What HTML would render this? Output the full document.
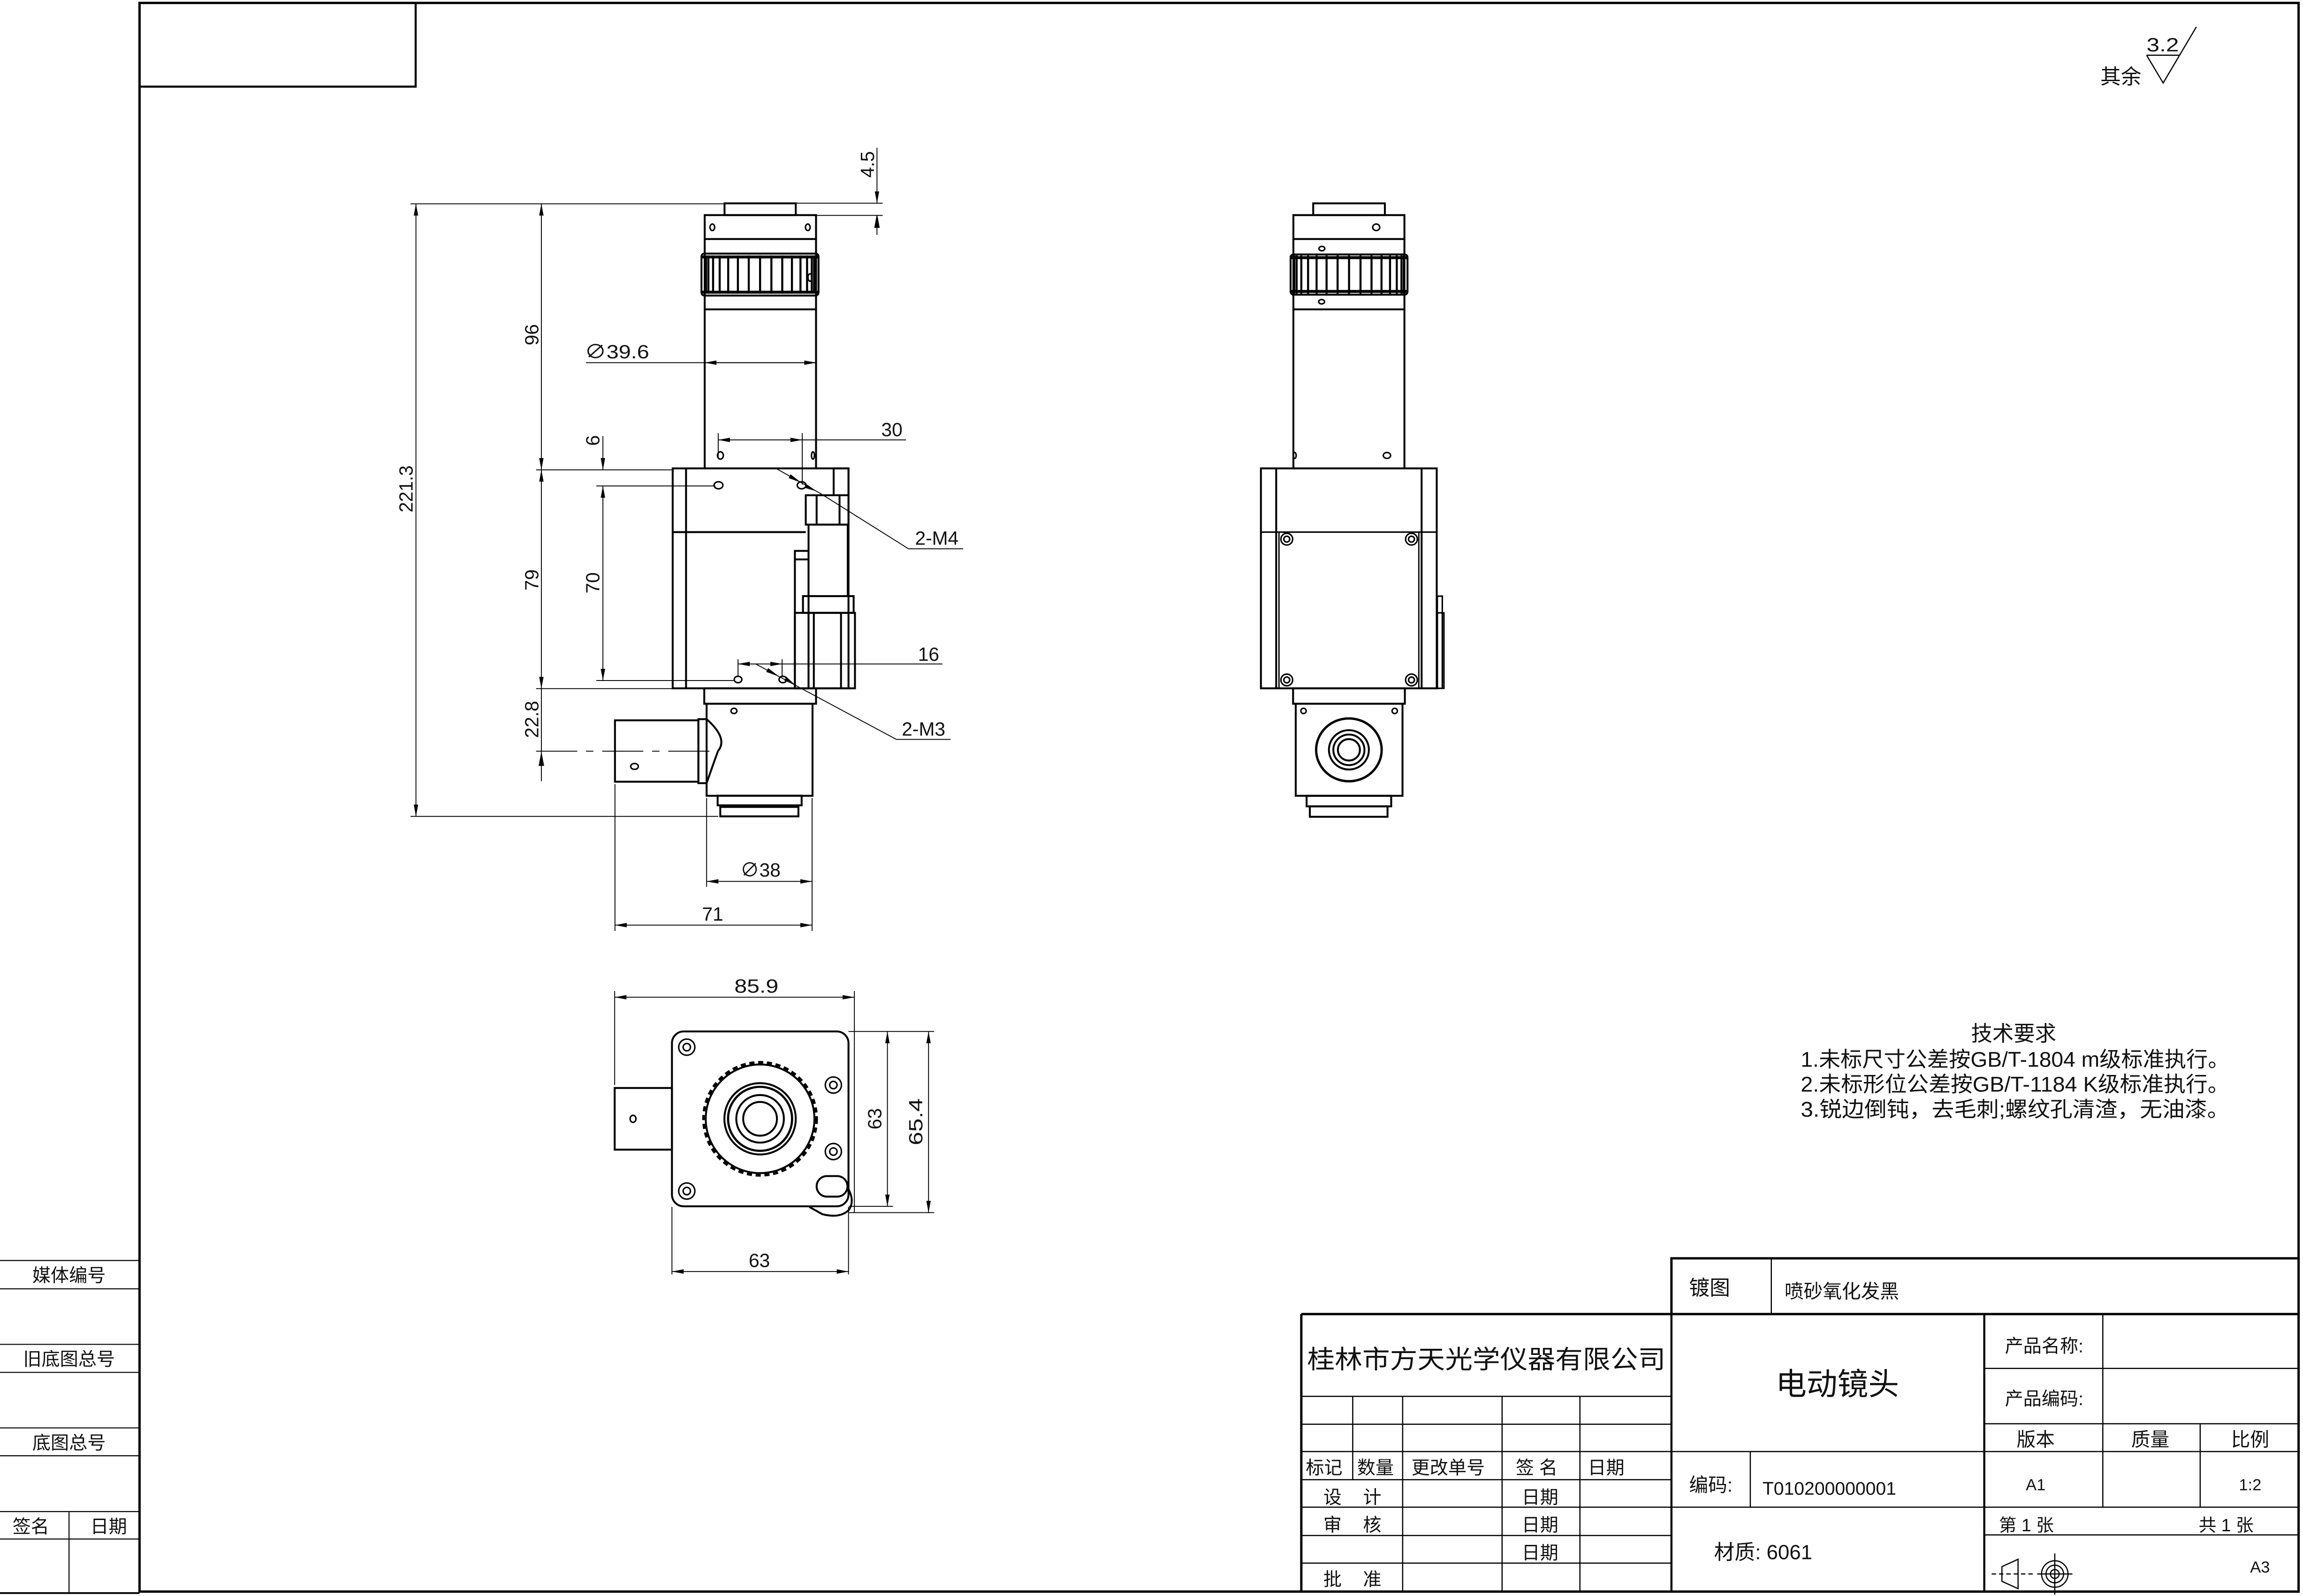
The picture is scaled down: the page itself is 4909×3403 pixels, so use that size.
<!DOCTYPE html>
<html><head><meta charset="utf-8">
<style>
html,body{margin:0;padding:0;background:#fff;}
svg{display:block;}
text{font-family:"Liberation Sans","Noto Sans CJK SC",sans-serif;fill:#111;}
</style></head>
<body>
<svg width="4909" height="3403" viewBox="0 0 1568 1087" preserveAspectRatio="none" xmlns="http://www.w3.org/2000/svg">
<defs>
<marker id="a" markerUnits="userSpaceOnUse" markerWidth="12" markerHeight="6" refX="0" refY="0" viewBox="-10 -3 12 6" orient="auto-start-reverse">
<path d="M0,0 L-8,-1.5 L-8,1.5 Z" fill="#000"/>
</marker>
</defs>
<rect width="1568" height="1087" fill="#fff"/>

<g fill="none" stroke="#000">
<rect x="95" y="2" width="1470" height="1082" stroke-width="1.6"/>
<rect x="95" y="2" width="188" height="57" stroke-width="1.4"/>
</g>

<g stroke="#000" stroke-width="0.7" fill="none">
<line x1="0" y1="858.5" x2="95" y2="858.5"/>
<line x1="0" y1="877.8" x2="95" y2="877.8"/>
<line x1="0" y1="915.6" x2="95" y2="915.6"/>
<line x1="0" y1="934.7" x2="95" y2="934.7"/>
<line x1="0" y1="972.5" x2="95" y2="972.5"/>
<line x1="0" y1="991.5" x2="95" y2="991.5"/>
<line x1="0" y1="1029.5" x2="95" y2="1029.5"/>
<line x1="0" y1="1048.2" x2="95" y2="1048.2"/>
<line x1="47" y1="1029.5" x2="47" y2="1085"/>
<line x1="0" y1="1085" x2="95" y2="1085" stroke-width="1.2"/>
</g>
<g font-size="12.5">
<text x="47" y="873" text-anchor="middle">媒体编号</text>
<text x="47" y="930" text-anchor="middle">旧底图总号</text>
<text x="47" y="987" text-anchor="middle">底图总号</text>
<text x="21" y="1044" text-anchor="middle">签名</text>
<text x="74" y="1044" text-anchor="middle">日期</text>
</g>

<g stroke="#000" stroke-width="0.8" fill="none">
<polyline points="1461.5,37.6 1484,37.6"/>
<polyline points="1461.5,37.6 1472.8,56.5 1495.4,18.3"/>
</g>
<text x="1461.5" y="35" font-size="13" textLength="22" lengthAdjust="spacingAndGlyphs">3.2</text>
<text x="1430" y="57" font-size="14">其余</text>

<g font-size="14.5">
<text x="1371" y="709" text-anchor="middle">技术要求</text>
<text x="1226" y="726.5" textLength="292" lengthAdjust="spacingAndGlyphs">1.未标尺寸公差按GB/T-1804 m级标准执行。</text>
<text x="1226" y="743.5" textLength="292" lengthAdjust="spacingAndGlyphs">2.未标形位公差按GB/T-1184 K级标准执行。</text>
<text x="1226" y="760.5" textLength="292" lengthAdjust="spacingAndGlyphs">3.锐边倒钝，去毛刺;螺纹孔清渣，无油漆。</text>
</g>

<g stroke="#000" fill="none">
<polyline points="1138,895 1138,857 1565,857" stroke-width="1.6"/>
<line x1="1206" y1="857" x2="1206" y2="895" stroke-width="0.8"/>
<line x1="886" y1="895" x2="1565" y2="895" stroke-width="1.6"/>
<line x1="886" y1="895" x2="886" y2="1084" stroke-width="1.6"/>
<line x1="1138" y1="895" x2="1138" y2="1084" stroke-width="1.4"/>
<line x1="1351" y1="895" x2="1351" y2="1084" stroke-width="1.4"/>
<g stroke-width="0.8">
<line x1="886" y1="951" x2="1138" y2="951"/>
<line x1="886" y1="970" x2="1138" y2="970"/>
<line x1="886" y1="988.6" x2="1565" y2="988.6"/>
<line x1="886" y1="1007.8" x2="1138" y2="1007.8"/>
<line x1="886" y1="1026.5" x2="1565" y2="1026.5"/>
<line x1="886" y1="1045.8" x2="1138" y2="1045.8"/>
<line x1="886" y1="1064.6" x2="1138" y2="1064.6"/>
<line x1="921" y1="951" x2="921" y2="1007.8"/>
<line x1="955" y1="951" x2="955" y2="1084"/>
<line x1="1022.7" y1="951" x2="1022.7" y2="1084"/>
<line x1="1075.7" y1="951" x2="1075.7" y2="1084"/>
<line x1="1191.7" y1="988.6" x2="1191.7" y2="1026.5"/>
<line x1="1351" y1="932" x2="1565" y2="932"/>
<line x1="1351" y1="969.7" x2="1565" y2="969.7"/>
<line x1="1351" y1="1045.4" x2="1565" y2="1045.4"/>
<line x1="1431.7" y1="895" x2="1431.7" y2="1026.5"/>
<line x1="1498" y1="969.7" x2="1498" y2="1026.5"/>
</g>
</g>
<g font-size="13">
<text x="1150" y="882" font-size="14">镀图</text>
<text x="1215" y="884">喷砂氧化发黑</text>
<text x="890" y="932" font-size="17.5" textLength="244" lengthAdjust="spacingAndGlyphs">桂林市方天光学仪器有限公司</text>
<text x="1251" y="950" font-size="21" text-anchor="middle">电动镜头</text>
<text x="1365" y="921" font-size="12.5">产品名称:</text>
<text x="1365" y="957" font-size="12.5">产品编码:</text>
<text x="1386" y="985" text-anchor="middle">版本</text>
<text x="1464" y="985" text-anchor="middle">质量</text>
<text x="1532" y="985" text-anchor="middle">比例</text>
<text x="1386" y="1015" font-size="11" text-anchor="middle">A1</text>
<text x="1532" y="1015" font-size="11" text-anchor="middle">1:2</text>
<text x="1361" y="1043" font-size="12">第 1 张</text>
<text x="1497" y="1043" font-size="12">共 1 张</text>
<text x="1532" y="1071" font-size="11">A3</text>
<text x="889" y="1004" font-size="12.5">标记</text>
<text x="924" y="1004" font-size="12.5">数量</text>
<text x="961" y="1004" font-size="12.5">更改单号</text>
<text x="1032" y="1004" font-size="12.5">签 名</text>
<text x="1081" y="1004" font-size="12.5">日期</text>
<text x="901" y="1024" font-size="12.5">设</text><text x="928" y="1024" font-size="12.5">计</text>
<text x="901" y="1043" font-size="12.5">审</text><text x="928" y="1043" font-size="12.5">核</text>
<text x="901" y="1080" font-size="12.5">批</text><text x="928" y="1080" font-size="12.5">准</text>
<text x="1036" y="1024" font-size="12.5">日期</text>
<text x="1036" y="1043" font-size="12.5">日期</text>
<text x="1036" y="1062" font-size="12.5">日期</text>
<text x="1150" y="1016" font-size="13">编码:</text>
<text x="1200" y="1018" font-size="12.5">T010200000001</text>
<text x="1167" y="1062" font-size="14">材质: 6061</text>
</g>
<g stroke="#000" stroke-width="0.8" fill="none">
<polygon points="1363,1067 1374,1062 1374,1082 1363,1077"/>
<line x1="1356" y1="1072" x2="1384" y2="1072" stroke-dasharray="3,2"/>
<circle cx="1399" cy="1072" r="9"/>
<circle cx="1399" cy="1072" r="6"/>
<circle cx="1399" cy="1072" r="3"/>
<line x1="1387" y1="1072" x2="1411" y2="1072"/>
<line x1="1399" y1="1058" x2="1399" y2="1086"/>
</g>

<!-- FRONT VIEW -->
<g stroke="#000" stroke-width="1.3" fill="none">
<rect x="493.3" y="138.5" width="48.5" height="8"/>
<rect x="479.8" y="146.5" width="75.8" height="16.3"/>
<line x1="479.8" y1="162.8" x2="479.8" y2="319"/>
<line x1="555.6" y1="162.8" x2="555.6" y2="319"/>
<line x1="479.8" y1="210.7" x2="555.6" y2="210.7"/>
<rect x="477.6" y="172.7" width="79.7" height="28.6" rx="2"/>
<line x1="478" y1="175" x2="557" y2="175" stroke-width="2"/>
<line x1="478" y1="199" x2="557" y2="199" stroke-width="2"/>
</g>
<g stroke="#000" stroke-width="1.4">
<line x1="480.7" y1="174" x2="480.7" y2="200"/><line x1="482.3" y1="174" x2="482.3" y2="200"/>
<line x1="485.5" y1="174" x2="485.5" y2="200"/><line x1="490" y1="174" x2="490" y2="200"/>
<line x1="495.8" y1="174" x2="495.8" y2="200"/><line x1="502.4" y1="174" x2="502.4" y2="200"/>
<line x1="509.8" y1="174" x2="509.8" y2="200"/><line x1="517.5" y1="174" x2="517.5" y2="200"/>
<line x1="525.2" y1="174" x2="525.2" y2="200"/><line x1="532.6" y1="174" x2="532.6" y2="200"/>
<line x1="539.2" y1="174" x2="539.2" y2="200"/><line x1="545" y1="174" x2="545" y2="200"/>
<line x1="549.5" y1="174" x2="549.5" y2="200"/><line x1="552.7" y1="174" x2="552.7" y2="200"/>
<line x1="554.3" y1="174" x2="554.3" y2="200"/>
</g>
<g stroke="#000" stroke-width="1" fill="none">
<ellipse cx="485" cy="154.8" rx="1.6" ry="2.2"/>
<ellipse cx="550" cy="154.8" rx="1.6" ry="2.2"/>
<ellipse cx="551.5" cy="189" rx="1.4" ry="2.5"/>
<ellipse cx="490.5" cy="310.2" rx="2" ry="2.5"/>
<ellipse cx="553.5" cy="310.2" rx="1" ry="2.5"/>
</g>
<g stroke="#000" stroke-width="1.3" fill="none">
<rect x="458" y="319" width="119.7" height="149.8"/>
<line x1="467.1" y1="319" x2="467.1" y2="468.8"/>
<line x1="458" y1="362.4" x2="548.6" y2="362.4"/>
<rect x="548.6" y="337.3" width="29.1" height="20"/>
<line x1="556" y1="337.3" x2="556" y2="357.3"/>
<line x1="571.6" y1="337.3" x2="571.6" y2="357.3"/>
<rect x="567.6" y="319" width="10.1" height="18.3"/>
<rect x="550.5" y="357.3" width="26.7" height="48.7"/>
<rect x="541.2" y="375.2" width="9.3" height="93.6"/>
<line x1="541.2" y1="381" x2="550.5" y2="381"/>
<rect x="546.7" y="406" width="34.5" height="11.4"/>
<rect x="541.2" y="417.4" width="40.9" height="51.4"/>
<line x1="550.5" y1="417.4" x2="550.5" y2="468.8"/>
<line x1="554.1" y1="417.4" x2="554.1" y2="468.8"/>
<line x1="572.6" y1="417.4" x2="572.6" y2="468.8"/>
</g>
<g stroke="#000" stroke-width="1" fill="none">
<ellipse cx="489.2" cy="330.5" rx="3" ry="2.4"/>
<ellipse cx="545.8" cy="330.5" rx="3" ry="2.4"/>
<ellipse cx="502.5" cy="462.8" rx="2.6" ry="2.2"/>
<ellipse cx="533" cy="462.8" rx="2.6" ry="2.2"/>
<ellipse cx="499.7" cy="484.2" rx="2" ry="1.8"/>
<ellipse cx="432" cy="522" rx="2.6" ry="2"/>
</g>
<g stroke="#000" stroke-width="1.3" fill="none">
<rect x="479.5" y="468.8" width="76.1" height="10.5"/>
<rect x="481.1" y="479.3" width="72.1" height="62.7"/>
<rect x="488.6" y="541.9" width="57.2" height="6.6"/>
<rect x="490.4" y="549.6" width="53.2" height="6.4"/>
<rect x="418.7" y="490.6" width="56.8" height="41.8"/>
<polyline points="475.5,490.6 475.5,489.8 481.1,489.8"/>
<polyline points="475.5,532.4 475.5,533.4 481.1,533.4"/>
<line x1="475.5" y1="490" x2="475.5" y2="533"/>
<path d="M481.1,489.8 Q496,503 488.8,511.6 Q484,525 481.1,533.4"/>
</g>
<line x1="365" y1="511.6" x2="484" y2="511.6" stroke="#000" stroke-width="0.6" stroke-dasharray="28,6,5,6"/>

<g stroke="#000" stroke-width="0.6" fill="none">
<line x1="279.5" y1="138.8" x2="493" y2="138.8"/>
<line x1="279.5" y1="556" x2="489" y2="556"/>
<line x1="365" y1="320" x2="458" y2="320"/>
<line x1="365" y1="469" x2="458" y2="469"/>
<line x1="406" y1="331" x2="487" y2="331"/>
<line x1="406" y1="463.5" x2="500" y2="463.5"/>
<line x1="555" y1="146.7" x2="601" y2="146.7"/>
<line x1="542" y1="138.4" x2="601" y2="138.4"/>
<line x1="283.2" y1="138.8" x2="283.2" y2="556" marker-start="url(#a)" marker-end="url(#a)"/>
<line x1="368.6" y1="138.8" x2="368.6" y2="320" marker-start="url(#a)" marker-end="url(#a)"/>
<line x1="368.6" y1="320" x2="368.6" y2="469" marker-start="url(#a)" marker-end="url(#a)"/>
<line x1="368.6" y1="469" x2="368.6" y2="532"/>
<path d="M368.6,513.3 L367.1,521.3 L370.1,521.3 Z" fill="#000"/>
<line x1="410.5" y1="297" x2="410.5" y2="320" marker-end="url(#a)"/>
<line x1="410.5" y1="331" x2="410.5" y2="463.5" marker-start="url(#a)" marker-end="url(#a)"/>
<line x1="597.1" y1="100.6" x2="597.1" y2="138.4" marker-end="url(#a)"/>
<line x1="597.1" y1="146.9" x2="597.1" y2="160"/>
<path d="M597.1,146.9 L595.6,154.9 L598.6,154.9 Z" fill="#000"/>
<line x1="399" y1="247" x2="555.6" y2="247"/>
<line x1="479.8" y1="247" x2="555.6" y2="247" marker-start="url(#a)" marker-end="url(#a)"/>
<line x1="489" y1="295" x2="489" y2="312"/>
<line x1="546.2" y1="295" x2="546.2" y2="330"/>
<line x1="489" y1="299.6" x2="546.2" y2="299.6" marker-start="url(#a)" marker-end="url(#a)"/>
<line x1="546.2" y1="299.6" x2="616.8" y2="299.6"/>
<line x1="502.5" y1="449" x2="502.5" y2="461"/>
<line x1="532.5" y1="449" x2="532.5" y2="461"/>
<line x1="502.5" y1="452.2" x2="641.7" y2="452.2"/>
<path d="M502.5,452.2 L510.5,450.7 L510.5,453.7 Z M532.5,452.2 L524.5,450.7 L524.5,453.7 Z" fill="#000" stroke="none"/>
<polyline points="528.3,319 559.6,336.7 618.6,373.8 655.8,373.8"/>
<path d="M545.5,328.7 L538.2,323 L537,325.6 Z M556,334.6 L548,332.3 L549.5,330 Z" fill="#000" stroke="none"/>
<polyline points="514.5,452.2 610.3,503.6 647.2,503.6"/>
<path d="M530.5,460.8 L523,455 L521.7,457.6 Z M541.5,466.6 L534,463.5 L535.5,461 Z" fill="#000" stroke="none"/>
<line x1="418.7" y1="534" x2="418.7" y2="634"/>
<line x1="481.1" y1="543.5" x2="481.1" y2="604"/>
<line x1="552.9" y1="543.5" x2="552.9" y2="634"/>
<line x1="481.1" y1="600.3" x2="552.9" y2="600.3" marker-start="url(#a)" marker-end="url(#a)"/>
<line x1="418.7" y1="630.1" x2="552.9" y2="630.1" marker-start="url(#a)" marker-end="url(#a)"/>
</g>
<g font-size="13">
<text transform="translate(281,333) rotate(-90)" text-anchor="middle" textLength="32" lengthAdjust="spacingAndGlyphs">221.3</text>
<text transform="translate(366.5,228) rotate(-90)" text-anchor="middle">96</text>
<text transform="translate(366.5,395) rotate(-90)" text-anchor="middle">79</text>
<text transform="translate(366.5,490) rotate(-90)" text-anchor="middle">22.8</text>
<text transform="translate(408,300) rotate(-90)" text-anchor="middle">6</text>
<text transform="translate(408,397) rotate(-90)" text-anchor="middle">70</text>
<text transform="translate(595,112) rotate(-90)" text-anchor="middle">4.5</text>
<text x="398" y="244" textLength="44" lengthAdjust="spacingAndGlyphs">∅39.6</text>
<text x="600" y="297">30</text>
<text x="625" y="450">16</text>
<text x="623" y="371">2-M4</text>
<text x="614" y="501">2-M3</text>
<text x="504" y="597">∅38</text>
<text x="478" y="627">71</text>
</g>

<!-- SIDE VIEW -->
<g stroke="#000" stroke-width="1.3" fill="none">
<rect x="894.1" y="138.5" width="48.8" height="8"/>
<rect x="880.6" y="146.5" width="75.6" height="16.3"/>
<line x1="880.6" y1="162.8" x2="880.6" y2="319"/>
<line x1="956.2" y1="162.8" x2="956.2" y2="319"/>
<line x1="880.6" y1="210.7" x2="956.2" y2="210.7"/>
<rect x="878.7" y="173.3" width="79.6" height="27.4" rx="2"/>
<line x1="879" y1="175.5" x2="958" y2="175.5" stroke-width="2"/>
<line x1="879" y1="198.5" x2="958" y2="198.5" stroke-width="2"/>
</g>
<g stroke="#000" stroke-width="1.4">
<line x1="881.2" y1="174" x2="881.2" y2="200"/><line x1="882.8" y1="174" x2="882.8" y2="200"/>
<line x1="886" y1="174" x2="886" y2="200"/><line x1="890.6" y1="174" x2="890.6" y2="200"/>
<line x1="896.4" y1="174" x2="896.4" y2="200"/><line x1="903.2" y1="174" x2="903.2" y2="200"/>
<line x1="910.7" y1="174" x2="910.7" y2="200"/><line x1="918.5" y1="174" x2="918.5" y2="200"/>
<line x1="926.3" y1="174" x2="926.3" y2="200"/><line x1="933.8" y1="174" x2="933.8" y2="200"/>
<line x1="940.6" y1="174" x2="940.6" y2="200"/><line x1="946.4" y1="174" x2="946.4" y2="200"/>
<line x1="951" y1="174" x2="951" y2="200"/><line x1="954.2" y1="174" x2="954.2" y2="200"/>
<line x1="955.8" y1="174" x2="955.8" y2="200"/>
</g>
<g stroke="#000" stroke-width="1" fill="none">
<ellipse cx="937" cy="154.8" rx="2.4" ry="2.2"/>
<ellipse cx="900" cy="169.3" rx="2" ry="1.5"/>
<ellipse cx="899.8" cy="205.5" rx="2" ry="1.5"/>
<ellipse cx="944.3" cy="310.2" rx="2.5" ry="2"/>
<ellipse cx="881.5" cy="310.2" rx="1" ry="2"/>
</g>
<g stroke="#000" stroke-width="1.3" fill="none">
<rect x="858.5" y="319" width="119.7" height="149.8"/>
<line x1="868.9" y1="319" x2="868.9" y2="468.8"/>
<line x1="967.9" y1="319" x2="967.9" y2="468.8"/>
<line x1="858.5" y1="362.4" x2="978.2" y2="362.4" stroke-width="1"/>
<line x1="870.8" y1="362.4" x2="870.8" y2="468.8" stroke-width="0.9"/>
<line x1="966" y1="362.4" x2="966" y2="468.8" stroke-width="0.9"/>
<rect x="978.6" y="406" width="3.4" height="62.8" stroke-width="1"/>
<rect x="978.6" y="417.4" width="4.5" height="51.4" stroke-width="1"/>
<rect x="880.4" y="468.8" width="76.1" height="10.5"/>
<rect x="882.2" y="479.3" width="72.7" height="62.7"/>
<rect x="889.6" y="542" width="57.6" height="7.2"/>
<rect x="891.8" y="549.2" width="52.9" height="7.1"/>
<ellipse cx="918.4" cy="510.7" rx="22.3" ry="21.4" stroke-width="1.6"/>
<ellipse cx="918.4" cy="510.7" rx="13.6" ry="13.4"/>
<ellipse cx="918.4" cy="510.7" rx="10.6" ry="10.4"/>
<ellipse cx="918.4" cy="510.7" rx="7.5" ry="7.3"/>
</g>
<g stroke="#000" stroke-width="1" fill="none">
<circle cx="876.1" cy="367.2" r="4"/><circle cx="876.1" cy="367.2" r="2"/>
<circle cx="961" cy="367.2" r="4"/><circle cx="961" cy="367.2" r="2"/>
<circle cx="876.1" cy="463.1" r="4"/><circle cx="876.1" cy="463.1" r="2"/>
<circle cx="961" cy="463.1" r="4"/><circle cx="961" cy="463.1" r="2"/>
<circle cx="887.5" cy="484.2" r="1.8"/>
<circle cx="949.6" cy="484.2" r="1.8"/>
</g>

<!-- BOTTOM VIEW -->
<g stroke="#000" stroke-width="1.3" fill="none">
<rect x="457.5" y="702.5" width="120.2" height="119.1" rx="8"/>
<rect x="418.5" y="741" width="39" height="42"/>
<circle cx="517.5" cy="762" r="38.5" stroke-dasharray="3.5,2.5" stroke-width="1.8"/>
<circle cx="517.5" cy="762" r="37"/>
<circle cx="517.5" cy="762" r="24.3"/>
<circle cx="517.5" cy="762" r="21.8" stroke-width="1.5"/>
<circle cx="517.5" cy="762" r="16.2"/>
<circle cx="517.5" cy="762" r="11.5"/>
<path d="M577.7,810 Q582,818 578,824 Q572,830 560,827 L551,822"/>
<rect x="556" y="801" width="21" height="14" rx="7"/>
</g>
<g stroke="#000" stroke-width="1" fill="none">
<circle cx="467.6" cy="713.2" r="5.5"/><circle cx="467.6" cy="713.2" r="2.5"/>
<circle cx="567.4" cy="739" r="5.5"/><circle cx="567.4" cy="739" r="2.5"/>
<circle cx="567.4" cy="784.3" r="5.5"/><circle cx="567.4" cy="784.3" r="2.5"/>
<circle cx="467.6" cy="811.2" r="5.5"/><circle cx="467.6" cy="811.2" r="2.5"/>
<ellipse cx="431" cy="762" rx="2" ry="2.4"/>
</g>
<g stroke="#000" stroke-width="0.6" fill="none">
<line x1="418.5" y1="675" x2="418.5" y2="739"/>
<line x1="581.7" y1="675" x2="581.7" y2="826"/>
<line x1="418.5" y1="679.2" x2="581.7" y2="679.2" marker-start="url(#a)" marker-end="url(#a)"/>
<line x1="457.5" y1="822" x2="457.5" y2="868"/>
<line x1="577.7" y1="822" x2="577.7" y2="868"/>
<line x1="457.5" y1="866" x2="577.7" y2="866" marker-start="url(#a)" marker-end="url(#a)"/>
<line x1="577.7" y1="702.5" x2="636" y2="702.5"/>
<line x1="578" y1="821.6" x2="608" y2="821.6"/>
<line x1="578" y1="825.9" x2="636" y2="825.9"/>
<line x1="604.2" y1="702.5" x2="604.2" y2="821.6" marker-start="url(#a)" marker-end="url(#a)"/>
<line x1="632.2" y1="702.5" x2="632.2" y2="825.9" marker-start="url(#a)" marker-end="url(#a)"/>
</g>
<g font-size="13">
<text x="500" y="676" textLength="30" lengthAdjust="spacingAndGlyphs">85.9</text>
<text x="517" y="863" text-anchor="middle">63</text>
<text transform="translate(600,762) rotate(-90)" text-anchor="middle">63</text>
<text transform="translate(628,764) rotate(-90)" text-anchor="middle" textLength="32" lengthAdjust="spacingAndGlyphs">65.4</text>
</g>
</svg>
</body></html>
